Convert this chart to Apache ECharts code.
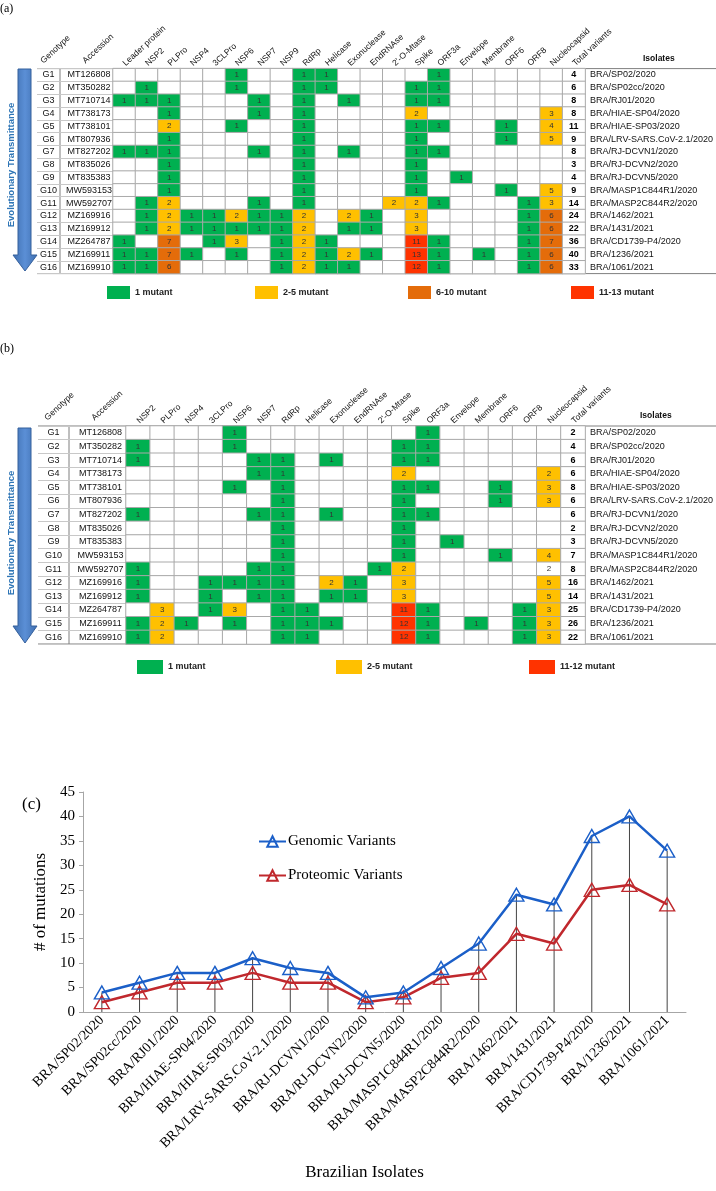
<!DOCTYPE html>
<html><head><meta charset="utf-8">
<script src="https://cdn.jsdelivr.net/npm/echarts@6/dist/echarts.min.js"></script>
<style>html,body{margin:0;padding:0;background:#fff}#c{width:716px;height:1191px}</style>
</head><body><div id="c"></div>
<script>
// ---------- DATA ----------
const genotypes = ['G1','G2','G3','G4','G5','G6','G7','G8','G9','G10','G11','G12','G13','G14','G15','G16'];
const accessions = ['MT126808','MT350282','MT710714','MT738173','MT738101','MT807936','MT827202','MT835026','MT835383','MW593153','MW592707','MZ169916','MZ169912','MZ264787','MZ169911','MZ169910'];
const isolates = ['BRA/SP02/2020','BRA/SP02cc/2020','BRA/RJ01/2020','BRA/HIAE-SP04/2020','BRA/HIAE-SP03/2020','BRA/LRV-SARS.CoV-2.1/2020','BRA/RJ-DCVN1/2020','BRA/RJ-DCVN2/2020','BRA/RJ-DCVN5/2020','BRA/MASP1C844R1/2020','BRA/MASP2C844R2/2020','BRA/1462/2021','BRA/1431/2021','BRA/CD1739-P4/2020','BRA/1236/2021','BRA/1061/2021'];

// Panel (a): genomic mutations per gene
const genesA = ['Leader protein','NSP2','PLPro','NSP4','3CLPro','NSP6','NSP7','NSP9','RdRp','Helicase','Exonuclease','EndRNAse',"2'-O-Mtase",'Spike','ORF3a','Envelope','Membrane','ORF6','ORF8','Nucleocapsid'];
const mutA = [
  [0,0,0,0,0,1,0,0,1,1,0,0,0,0,1,0,0,0,0,0],
  [0,1,0,0,0,1,0,0,1,1,0,0,0,1,1,0,0,0,0,0],
  [1,1,1,0,0,0,1,0,1,0,1,0,0,1,1,0,0,0,0,0],
  [0,0,1,0,0,0,1,0,1,0,0,0,0,2,0,0,0,0,0,3],
  [0,0,2,0,0,1,0,0,1,0,0,0,0,1,1,0,0,1,0,4],
  [0,0,1,0,0,0,0,0,1,0,0,0,0,1,0,0,0,1,0,5],
  [1,1,1,0,0,0,1,0,1,0,1,0,0,1,1,0,0,0,0,0],
  [0,0,1,0,0,0,0,0,1,0,0,0,0,1,0,0,0,0,0,0],
  [0,0,1,0,0,0,0,0,1,0,0,0,0,1,0,1,0,0,0,0],
  [0,0,1,0,0,0,0,0,1,0,0,0,0,1,0,0,0,1,0,5],
  [0,1,2,0,0,0,1,0,1,0,0,0,2,2,1,0,0,0,1,3],
  [0,1,2,1,1,2,1,1,2,0,2,1,0,3,0,0,0,0,1,6],
  [0,1,2,1,1,1,1,1,2,0,1,1,0,3,0,0,0,0,1,6],
  [1,0,7,0,1,3,0,1,2,1,0,0,0,11,1,0,0,0,1,7],
  [1,1,7,1,0,1,0,1,2,1,2,1,0,13,1,0,1,0,1,6],
  [1,1,6,0,0,0,0,1,2,1,1,0,0,12,1,0,0,0,1,6]
];
const totalsA = [4,6,8,8,11,9,8,3,4,9,14,24,22,36,40,33];

// Panel (b): proteomic mutations per gene
const genesB = ['NSP2','PLPro','NSP4','3CLPro','NSP6','NSP7','RdRp','Helicase','Exonuclease','EndRNAse',"2'-O-Mtase",'Spike','ORF3a','Envelope','Membrane','ORF6','ORF8','Nucleocapsid'];
const mutB = [
  [0,0,0,0,1,0,0,0,0,0,0,0,1,0,0,0,0,0],
  [1,0,0,0,1,0,0,0,0,0,0,1,1,0,0,0,0,0],
  [1,0,0,0,0,1,1,0,1,0,0,1,1,0,0,0,0,0],
  [0,0,0,0,0,1,1,0,0,0,0,2,0,0,0,0,0,2],
  [0,0,0,0,1,0,1,0,0,0,0,1,1,0,0,1,0,3],
  [0,0,0,0,0,0,1,0,0,0,0,1,0,0,0,1,0,3],
  [1,0,0,0,0,1,1,0,1,0,0,1,1,0,0,0,0,0],
  [0,0,0,0,0,0,1,0,0,0,0,1,0,0,0,0,0,0],
  [0,0,0,0,0,0,1,0,0,0,0,1,0,1,0,0,0,0],
  [0,0,0,0,0,0,1,0,0,0,0,1,0,0,0,1,0,4],
  [1,0,0,0,0,1,1,0,0,0,1,2,0,0,0,0,0,2],
  [1,0,0,1,1,1,1,0,2,1,0,3,0,0,0,0,0,5],
  [1,0,0,1,0,1,1,0,1,1,0,3,0,0,0,0,0,5],
  [0,3,0,1,3,0,1,1,0,0,0,11,1,0,0,0,1,3],
  [1,2,1,0,1,0,1,1,1,0,0,12,1,0,1,0,1,3],
  [1,2,0,0,0,0,1,1,0,0,0,12,1,0,0,0,1,3]
];
const totalsB = [2,4,6,6,8,6,6,2,3,7,8,16,14,25,26,22];
const uncoloredB = [[10,17]]; // [row, gene] printed without fill in the source

// Panel (c)
const genomicVariants = [4,6,8,8,11,9,8,3,4,9,14,24,22,36,40,33];
const proteomicVariants = [2,4,6,6,8,6,6,2,3,7,8,16,14,25,26,22];
const yTicks = [0,5,10,15,20,25,30,35,40,45];

const legendA = ['1 mutant','2-5 mutant','6-10 mutant','11-13 mutant'];
const legendB = ['1 mutant','2-5 mutant','11-12 mutant'];

// ---------- STYLE ----------
const GREEN='#00b050', YELLOW='#ffc000', ORANGE='#e46c0a', RED='#ff3300';
const SANS='"Liberation Sans",Arial,sans-serif';
const NARROW='"Liberation Sans Narrow","Liberation Sans",Arial,sans-serif';
const SERIF='"Liberation Serif","Times New Roman",serif';
const BLUE_LINE='#1b5fc8', RED_LINE='#c0282d';

function cellColor(v){ if(!v) return '#ffffff'; if(v===1) return GREEN; if(v<=5) return YELLOW; if(v<=10) return ORANGE; return RED; }
function buildCells(matrix, totals, uncolored){
  const out=[];
  matrix.forEach((row,r)=>{
    row.forEach((v,c)=>{
      const plain = uncolored.some(u=>u[0]===r&&u[1]===c);
      out.push({value:[c,r,v], itemStyle:{color: plain?'#ffffff':cellColor(v)}});
    });
    out.push({value:[row.length,r,totals[r]], itemStyle:{color:'#ffffff'}, label:{fontWeight:'bold', color:'#000', fontSize:9}});
  });
  return out;
}
const legendColor = {'1 mutant':GREEN,'2-5 mutant':YELLOW,'6-10 mutant':ORANGE,'11-13 mutant':RED,'11-12 mutant':RED};

function heatSeries(matrix, totals, uncolored, gi){
  return {type:'heatmap', xAxisIndex:gi, yAxisIndex:gi*2, data:buildCells(matrix,totals,uncolored),
    itemStyle:{borderColor:'#a9a9a9', borderWidth:1},
    label:{show:true, fontSize:8, fontFamily:SANS, color:'#333', formatter:p=>p.value[2]?String(p.value[2]):''},
    emphasis:{disabled:true}, silent:true};
}
function leftAxis(gi, gw, sw, aw, tickLen){
  return {gridIndex:gi, type:'category', data:genotypes, inverse:true,
    axisLine:{show:false}, axisTick:{show:true, length:tickLen, lineStyle:{color:'#c8c8c8'}},
    axisLabel:{margin:0, color:'#111', fontSize:9, fontFamily:NARROW,
      formatter:(v,i)=>'{g|'+v+'}{s|}{a|'+accessions[i]+'}',
      rich:{g:{width:gw, align:'center', fontSize:9, fontFamily:NARROW, color:'#111'},
            s:{width:sw}, a:{width:aw, align:'left', fontSize:9, fontFamily:NARROW, color:'#111'}}}};
}
function rightAxis(gi){
  return {gridIndex:gi, type:'category', data:isolates, inverse:true, position:'right',
    axisLine:{show:false}, axisTick:{show:false},
    axisLabel:{margin:5, color:'#111', fontSize:9, fontFamily:NARROW}};
}
function topAxis(gi, genes){
  return {gridIndex:gi, type:'category', position:'top', data:genes.concat(['Total variants']),
    axisLine:{show:false}, axisTick:{show:false}, splitLine:{show:false},
    axisLabel:{rotate:-43, align:'left', verticalAlign:'middle', interval:0, margin:4, fontSize:8.5, fontFamily:SANS, color:'#111'}};
}
function dummy(name, gi){
  return {type:'bar', name, xAxisIndex:gi, yAxisIndex:gi*2, data:[], itemStyle:{color:legendColor[name]}};
}
function mutLegends(names, lefts, top, w, h){
  return names.map((n,i)=>({data:[n], left:lefts[i], top, padding:0, icon:'rect', itemWidth:w, itemHeight:h,
    itemGap:0, selectedMode:false, textStyle:{fontFamily:SANS, fontWeight:'bold', fontSize:9, color:'#222', padding:[0,0,0,0]}}));
}
function arrow(top, headStart, tip){
  return {type:'polygon', silent:true,
    shape:{points:[[18,top],[31,top],[31,headStart],[37,headStart],[25,tip],[13,headStart],[18,headStart]]},
    style:{fill:{type:'linear',x:0,y:0,x2:1,y2:0,colorStops:[{offset:0,color:'#3e6eaf'},{offset:0.5,color:'#5b8fd6'},{offset:1,color:'#3e6eaf'}]}, stroke:'#35609c', lineWidth:1}};
}
function vtext(txt, cy){
  return {type:'text', silent:true, x:11, y:cy, rotation:Math.PI/2,
    style:{text:txt, fill:'#2e75b6', font:'bold 9.5px '+SANS, align:'center', verticalAlign:'middle'}};
}
function hline(x1,x2,y,c){ return {type:'line', silent:true, shape:{x1,y1:y,x2,y2:y}, style:{stroke:c, lineWidth:1}}; }
function vline(x,y1,y2,c){ return {type:'line', silent:true, shape:{x1:x,y1,x2:x,y2}, style:{stroke:c, lineWidth:1}}; }
function rtext(txt,x,y,font){ return {type:'text', silent:true, x, y, rotation:43*Math.PI/180, style:{text:txt, fill:'#111', font, align:'left', verticalAlign:'middle'}}; }

const gA={left:113, top:68.6, width:492, height:205};
const gB={left:126, top:426, width:476, height:218};
const gC={left:83, top:792, width:603, height:220};

const option = {
  backgroundColor:'#ffffff',
  animation:false,
  title:[
    {text:'(a)', left:0, top:3, padding:0, textStyle:{fontFamily:SERIF, fontSize:12, fontWeight:'normal', color:'#000'}},
    {text:'(b)', left:0, top:343, padding:0, textStyle:{fontFamily:SERIF, fontSize:12, fontWeight:'normal', color:'#000'}},
    {text:'(c)', left:22, top:796, padding:0, textStyle:{fontFamily:SERIF, fontSize:17, fontWeight:'normal', color:'#000'}}
  ],
  grid:[gA,gB,gC],
  xAxis:[
    topAxis(0, genesA),
    topAxis(1, genesB),
    {gridIndex:2, type:'category', data:isolates, boundaryGap:true,
      axisLine:{lineStyle:{color:'#a6a6a6'}}, axisTick:{show:false}, splitLine:{show:false},
      axisLabel:{rotate:45, interval:0, fontFamily:SERIF, fontSize:14, color:'#000', margin:6},
      name:'Brazilian Isolates', nameLocation:'middle', nameGap:152,
      nameTextStyle:{fontFamily:SERIF, fontSize:17, color:'#000', padding:[0,40,0,0]}}
  ],
  yAxis:[
    leftAxis(0, 23, 5, 48, 76), rightAxis(0),
    leftAxis(1, 31, 6, 51, 88), rightAxis(1),
    {gridIndex:2, type:'value', min:yTicks[0], max:yTicks[yTicks.length-1], interval:yTicks[1]-yTicks[0],
      axisLine:{show:true, lineStyle:{color:'#a6a6a6'}}, axisTick:{show:true, length:4, lineStyle:{color:'#a6a6a6'}},
      splitLine:{show:false},
      axisLabel:{fontFamily:SERIF, fontSize:15, color:'#000', margin:8},
      name:'# of mutations', nameLocation:'middle', nameGap:33,
      nameTextStyle:{fontFamily:SERIF, fontSize:17, color:'#000'}}
  ],
  legend:[
    ...mutLegends(legendA, [107,255,408,571], 286, 23, 13),
    ...mutLegends(legendB, [137,336,529], 660, 26, 14),
    {data:['Genomic Variants','Proteomic Variants'], orient:'vertical', left:258, top:834, padding:0,
      itemGap:19, itemWidth:27, itemHeight:13, selectedMode:false,
      textStyle:{fontFamily:SERIF, fontSize:15, color:'#000', padding:[0,0,0,-3]}}
  ],
  series:[
    heatSeries(mutA, totalsA, [], 0),
    heatSeries(mutB, totalsB, uncoloredB, 1),
    ...legendA.map(n=>dummy(n,0)),
    ...legendB.map(n=>dummy(n,1)),
    {type:'bar', name:'drop', xAxisIndex:2, yAxisIndex:4, data:genomicVariants, barWidth:1,
      itemStyle:{color:'#444'}, silent:true, z:1},
    {type:'line', name:'Genomic Variants', xAxisIndex:2, yAxisIndex:4, data:genomicVariants,
      symbol:'triangle', symbolSize:[15,13], z:4,
      lineStyle:{color:BLUE_LINE, width:2.5},
      itemStyle:{color:'rgba(255,255,255,0)', borderColor:BLUE_LINE, borderWidth:1.4}},
    {type:'line', name:'Proteomic Variants', xAxisIndex:2, yAxisIndex:4, data:proteomicVariants,
      symbol:'triangle', symbolSize:[15,13], z:3,
      lineStyle:{color:RED_LINE, width:2.5},
      itemStyle:{color:'rgba(255,255,255,0)', borderColor:RED_LINE, borderWidth:1.4}}
  ],
  graphic:[
    hline(37,716,gA.top,'#7f7f7f'), hline(37,716,gA.top+gA.height,'#7f7f7f'), vline(60,gA.top,gA.top+gA.height,'#7f7f7f'),
    hline(38,716,gB.top,'#7f7f7f'), hline(38,716,gB.top+gB.height,'#7f7f7f'), vline(69,gB.top,gB.top+gB.height,'#7f7f7f'),
    arrow(69,255,271), vtext('Evolutionary Transmittance',165),
    arrow(428,626,643), vtext('Evolutionary Transmittance',533),
    rtext('Genotype',42,62,'8.5px '+SANS), rtext('Accession',84,62,'8.5px '+SANS),
    rtext('Genotype',46,419,'8.5px '+SANS), rtext('Accession',93,419,'8.5px '+SANS),
    {type:'text', silent:true, x:643, y:59, style:{text:'Isolates', fill:'#111', font:'bold 8.5px '+SANS, align:'left', verticalAlign:'middle'}},
    {type:'text', silent:true, x:640, y:416, style:{text:'Isolates', fill:'#111', font:'bold 8.5px '+SANS, align:'left', verticalAlign:'middle'}}
  ]
};
const chart = echarts.init(document.getElementById('c'), null, {renderer:'canvas'});
chart.setOption(option);
</script></body></html>
